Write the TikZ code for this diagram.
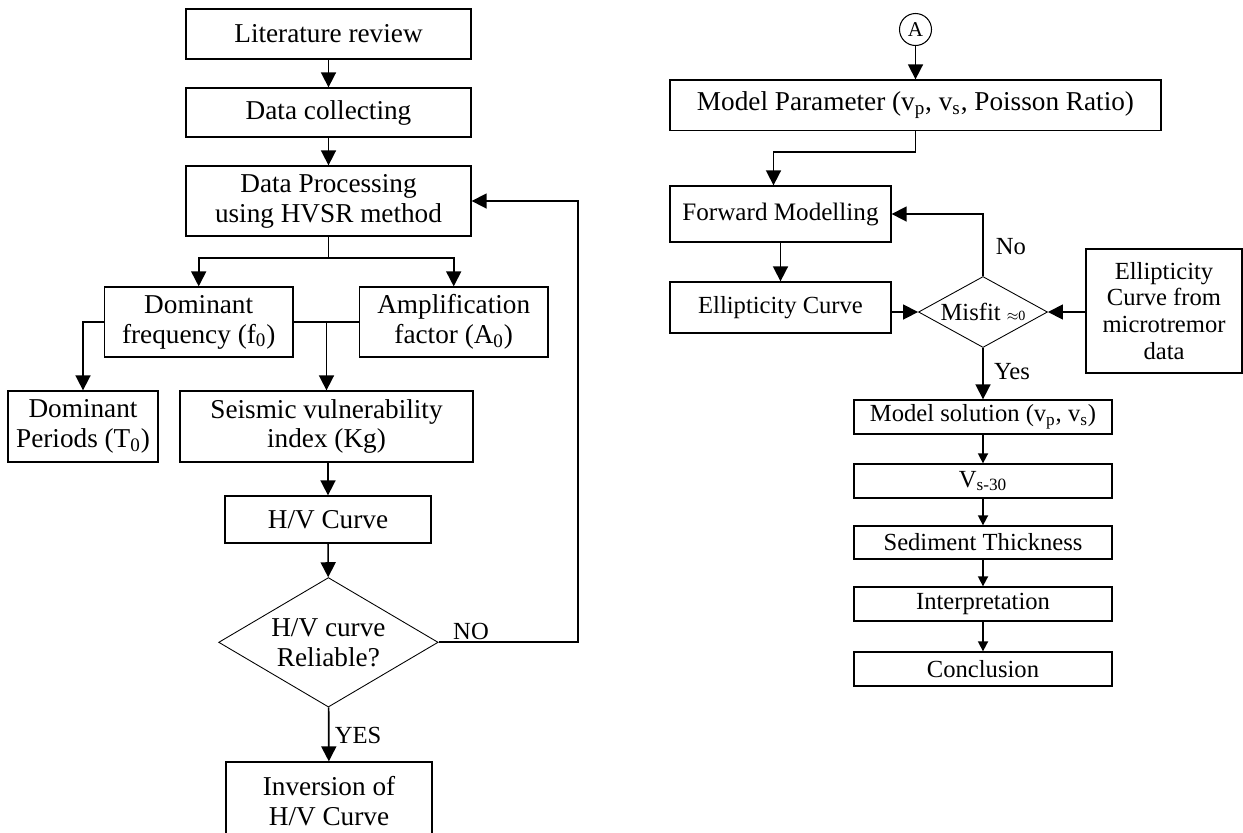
\documentclass[tikz,border=0pt]{standalone}
\usepackage{fontspec}
\setmainfont{Liberation Serif}
\usetikzlibrary{arrows.meta,shapes.geometric}

\begin{document}
\begin{tikzpicture}[x=0.2mm,y=-0.2mm,
  box/.style={draw,line width=0.75pt,align=center,inner sep=0pt,font=\fontsize{15.5}{17}\selectfont},
  smallbox/.style={draw,line width=0.75pt,align=center,inner sep=0pt,minimum width=51.6mm,font=\fontsize{14}{15}\selectfont},
  decision/.style={draw,diamond,line width=0.5pt,align=center,inner sep=0pt,font=\fontsize{15.5}{17}\selectfont},
  arr/.style={line width=0.95pt,-{Triangle[length=3mm,width=3mm]}},
  arrs/.style={line width=0.95pt,-{Triangle[length=2mm,width=2mm]}},
  lbl/.style={inner sep=0pt,font=\fontsize{14}{15}\selectfont}]
\useasboundingbox (0,0) rectangle (1243,832);

\node[box,minimum width=57mm,minimum height=10mm] (lit) at (328.5,34) {Literature review};
\node[box,minimum width=57mm,minimum height=9.8mm] (data) at (328.5,112.5) {Data collecting};
\node[box,minimum width=57mm,minimum height=14mm] (proc) at (328.5,201) {Data Processing\\using HVSR method};
\node[box,minimum width=37.7mm,minimum height=14mm] (domf) at (198.7,322) {Dominant\\frequency (f\textsubscript{0})};
\node[box,minimum width=37.7mm,minimum height=14mm] (amp) at (453.7,322) {Amplification\\factor (A\textsubscript{0})};
\node[box,minimum width=30mm,minimum height=14.2mm] (domp) at (83,426.5) {Dominant\\Periods (T\textsubscript{0})};
\node[box,minimum width=58.6mm,minimum height=14.2mm] (seis) at (326.5,426.5) {Seismic vulnerability\\index (Kg)};
\node[box,minimum width=41.2mm,minimum height=9.4mm] (hv) at (328,519.5) {H/V Curve};
\node[decision,aspect=1.7,minimum width=43.9mm,minimum height=25.9mm] (rel) at (328.4,642.3) {H/V curve\\Reliable?};
\node[box,minimum width=41.2mm,minimum height=15.6mm] (inv) at (329,801) {Inversion of\\H/V Curve};

\draw[arr] (lit) -- (data);
\draw[arr] (data) -- (proc);
\coordinate (br) at (328.5,258);
\draw[line width=0.95pt] (proc.south) -- (br);
\draw[arr] (br) -| (domf.north);
\draw[arr] (br) -| (amp.north);
\draw[arr] (domf.west) -| (domp.north);
\draw[line width=0.95pt] (domf.east) -- (amp.west);
\draw[arr] (domf.east -| seis.north) -- (seis.north);
\draw[arr] (seis.south -| hv.north) -- (hv.north);
\draw[arr] (hv) -- (rel);
\coordinate (nob) at (578,201);
\draw[arr] (rel.east) -| (nob) -- (proc.east);
\node[lbl] (no) at (471,631) {NO};
\draw[arr] (rel) -- (inv);
\node[lbl] (yes) at (358,735) {YES};

\node[circle,draw,line width=0.6pt,minimum size=6.4mm,inner sep=0pt,font=\fontsize{12}{13}\selectfont] (A) at (915.5,29.5) {A};
\node[box,minimum width=98.2mm,minimum height=10.1mm] (mp) at (915.5,105.25) {Model Parameter (v\textsubscript{p}, v\textsubscript{s}, Poisson Ratio)};
\node[box,minimum width=44.2mm,minimum height=11.2mm,font=\fontsize{14.3}{17}\selectfont] (fwd) at (780.5,214) {Forward Modelling};
\node[box,minimum width=44.2mm,minimum height=10.2mm,font=\fontsize{14}{17}\selectfont] (ell) at (780.5,307.5) {Ellipticity Curve};
\node[decision,aspect=1.82,minimum width=25.8mm,minimum height=14.2mm,font=\fontsize{14}{17}\selectfont] (mis) at (983,312) {Misfit {\fontsize{8}{9}\selectfont$\approx$0}};
\node[box,minimum width=31.2mm,minimum height=24.8mm,font=\fontsize{14}{15.3}\selectfont] (micro) at (1164,311) {Ellipticity\\Curve from\\microtremor\\data};
\node[smallbox,minimum height=6.8mm] (sol) at (983,417) {Model solution (v\textsubscript{p}, v\textsubscript{s})};
\node[smallbox,minimum height=6.8mm] (vs) at (983,481) {V\textsubscript{s-30}};
\node[smallbox,minimum height=6.6mm] (sed) at (983,542.5) {Sediment Thickness};
\node[smallbox,minimum height=6.8mm] (interp) at (983,604) {Interpretation};
\node[smallbox,minimum height=6.8mm] (concl) at (983,669) {Conclusion};

\draw[arr] (A) -- (mp);
\coordinate (mpk) at (773.5,151.7);
\draw[arr] (mp.south) |- (mpk) -- (mpk |- fwd.north);
\draw[arr] (fwd) -- (ell);
\draw[arr] (ell.east |- mis.west) -- (mis.west);
\draw[arr] (micro.west |- mis.east) -- (mis.east);
\draw[arr] (mis.north) |- (fwd.east);
\node[lbl] (nolbl) at (1011,247) {No};
\draw[arr] (mis.south) -- (sol.north);
\node[lbl] (yeslbl) at (1012,372) {Yes};
\draw[arrs] (sol) -- (vs);
\draw[arrs] (vs) -- (sed);
\draw[arrs] (sed) -- (interp);
\draw[arrs] (interp) -- (concl);
\end{tikzpicture}
\end{document}
